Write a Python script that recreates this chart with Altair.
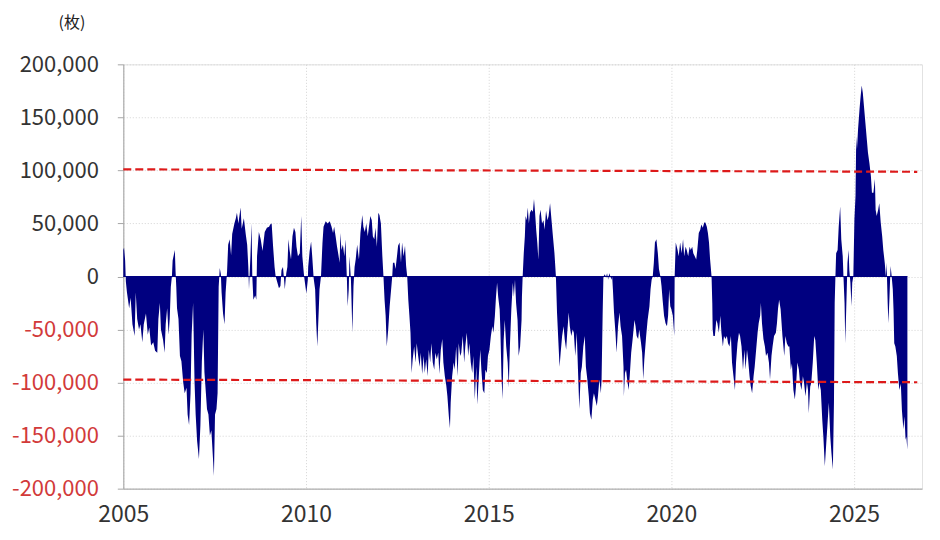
import altair as alt
import pandas as pd

# Net position (contracts, thousands), keyed by decimal year
years = [
    2005.00, 2005.02, 2005.05, 2005.07, 2005.10, 2005.16, 2005.20, 2005.25, 2005.31, 2005.34,
    2005.38, 2005.43, 2005.47, 2005.52, 2005.56, 2005.62, 2005.67, 2005.71, 2005.76, 2005.82,
    2005.87, 2005.93, 2005.96, 2006.00, 2006.03, 2006.09, 2006.13, 2006.16, 2006.20, 2006.24,
    2006.27, 2006.30, 2006.33, 2006.35, 2006.38, 2006.41, 2006.43, 2006.45, 2006.47, 2006.51,
    2006.55, 2006.59, 2006.64, 2006.68, 2006.73, 2006.76, 2006.80, 2006.84, 2006.87, 2006.91,
    2006.95, 2006.98, 2007.02, 2007.07, 2007.11, 2007.15, 2007.19, 2007.22, 2007.26, 2007.29,
    2007.33, 2007.37, 2007.41, 2007.46, 2007.48, 2007.51, 2007.55, 2007.58, 2007.61, 2007.64,
    2007.67, 2007.69, 2007.73, 2007.77, 2007.80, 2007.84, 2007.87, 2007.91, 2007.95, 2007.98,
    2008.04, 2008.08, 2008.11, 2008.15, 2008.21, 2008.24, 2008.30, 2008.35, 2008.39, 2008.42,
    2008.44, 2008.48, 2008.51, 2008.53, 2008.56, 2008.61, 2008.64, 2008.66, 2008.71, 2008.76,
    2008.81, 2008.87, 2008.93, 2008.99, 2009.02, 2009.06, 2009.10, 2009.14, 2009.17, 2009.21,
    2009.26, 2009.30, 2009.33, 2009.37, 2009.40, 2009.42, 2009.46, 2009.49, 2009.52, 2009.55,
    2009.59, 2009.63, 2009.67, 2009.71, 2009.74, 2009.78, 2009.83, 2009.87, 2009.90, 2009.94,
    2009.96, 2010.01, 2010.05, 2010.06, 2010.10, 2010.14, 2010.17, 2010.21, 2010.25, 2010.28,
    2010.31, 2010.35, 2010.37, 2010.41, 2010.45, 2010.48, 2010.54, 2010.59, 2010.65, 2010.70,
    2010.74, 2010.77, 2010.81, 2010.85, 2010.88, 2010.92, 2010.94, 2010.97, 2011.01, 2011.05,
    2011.08, 2011.12, 2011.14, 2011.17, 2011.19, 2011.23, 2011.27, 2011.30, 2011.33, 2011.36,
    2011.40, 2011.45, 2011.49, 2011.54, 2011.57, 2011.61, 2011.65, 2011.69, 2011.72, 2011.76,
    2011.80, 2011.83, 2011.87, 2011.90, 2011.94, 2011.98, 2012.01, 2012.05, 2012.09, 2012.12,
    2012.15, 2012.18, 2012.21, 2012.25, 2012.29, 2012.33, 2012.36, 2012.38, 2012.42, 2012.45,
    2012.49, 2012.52, 2012.56, 2012.60, 2012.63, 2012.67, 2012.71, 2012.74, 2012.77, 2012.80,
    2012.83, 2012.86, 2012.89, 2012.92, 2012.96, 2013.00, 2013.03, 2013.07, 2013.11, 2013.14,
    2013.18, 2013.22, 2013.25, 2013.29, 2013.33, 2013.36, 2013.40, 2013.43, 2013.47, 2013.51,
    2013.54, 2013.58, 2013.62, 2013.65, 2013.69, 2013.73, 2013.76, 2013.80, 2013.84, 2013.87,
    2013.91, 2013.94, 2013.96, 2014.00, 2014.04, 2014.07, 2014.11, 2014.15, 2014.18, 2014.22,
    2014.25, 2014.29, 2014.33, 2014.36, 2014.40, 2014.44, 2014.47, 2014.51, 2014.55, 2014.58,
    2014.62, 2014.66, 2014.69, 2014.73, 2014.77, 2014.80, 2014.84, 2014.88, 2014.91, 2014.95,
    2014.98, 2015.02, 2015.06, 2015.10, 2015.13, 2015.17, 2015.20, 2015.23, 2015.26, 2015.30,
    2015.32, 2015.35, 2015.38, 2015.41, 2015.44, 2015.48, 2015.52, 2015.55, 2015.58, 2015.62,
    2015.66, 2015.69, 2015.72, 2015.75, 2015.79, 2015.82, 2015.86, 2015.90, 2015.91, 2015.93,
    2015.96, 2015.99, 2016.01, 2016.04, 2016.07, 2016.10, 2016.13, 2016.17, 2016.21, 2016.24,
    2016.27, 2016.30, 2016.33, 2016.36, 2016.39, 2016.42, 2016.46, 2016.50, 2016.53, 2016.57,
    2016.61, 2016.64, 2016.68, 2016.72, 2016.75, 2016.80, 2016.84, 2016.87, 2016.90, 2016.94,
    2016.97, 2017.01, 2017.05, 2017.08, 2017.12, 2017.15, 2017.19, 2017.22, 2017.26, 2017.30,
    2017.33, 2017.37, 2017.41, 2017.45, 2017.48, 2017.52, 2017.55, 2017.59, 2017.63, 2017.66,
    2017.70, 2017.74, 2017.77, 2017.81, 2017.85, 2017.88, 2017.92, 2017.96, 2017.99, 2018.03,
    2018.07, 2018.09, 2018.12, 2018.14, 2018.18, 2018.21, 2018.24, 2018.27, 2018.30, 2018.33,
    2018.36, 2018.38, 2018.40, 2018.43, 2018.47, 2018.50, 2018.54, 2018.58, 2018.61, 2018.65,
    2018.69, 2018.70, 2018.73, 2018.76, 2018.79, 2018.83, 2018.86, 2018.90, 2018.94, 2018.99,
    2019.02, 2019.05, 2019.09, 2019.12, 2019.17, 2019.20, 2019.23, 2019.26, 2019.31, 2019.35,
    2019.40, 2019.43, 2019.46, 2019.49, 2019.52, 2019.55, 2019.59, 2019.63, 2019.66, 2019.70,
    2019.73, 2019.76, 2019.80, 2019.84, 2019.88, 2019.91, 2019.94, 2019.97, 2020.00, 2020.04,
    2020.08, 2020.09, 2020.12, 2020.17, 2020.20, 2020.24, 2020.28, 2020.32, 2020.35, 2020.39,
    2020.42, 2020.46, 2020.50, 2020.53, 2020.57, 2020.60, 2020.64, 2020.68, 2020.71, 2020.75,
    2020.79, 2020.82, 2020.86, 2020.90, 2020.93, 2020.97, 2021.00, 2021.03, 2021.06, 2021.10,
    2021.12, 2021.13, 2021.15, 2021.19, 2021.23, 2021.26, 2021.30, 2021.34, 2021.37, 2021.41,
    2021.44, 2021.48, 2021.52, 2021.55, 2021.59, 2021.63, 2021.66, 2021.70, 2021.74, 2021.77,
    2021.81, 2021.85, 2021.88, 2021.92, 2021.96, 2022.00, 2022.03, 2022.07, 2022.10, 2022.14,
    2022.17, 2022.21, 2022.25, 2022.28, 2022.32, 2022.36, 2022.39, 2022.43, 2022.45, 2022.48,
    2022.52, 2022.56, 2022.59, 2022.63, 2022.67, 2022.70, 2022.74, 2022.77, 2022.81, 2022.86,
    2022.89, 2022.92, 2022.95, 2022.99, 2023.04, 2023.09, 2023.12, 2023.16, 2023.20, 2023.23,
    2023.27, 2023.30, 2023.34, 2023.38, 2023.41, 2023.45, 2023.49, 2023.52, 2023.56, 2023.60,
    2023.63, 2023.67, 2023.71, 2023.74, 2023.76, 2023.80, 2023.83, 2023.87, 2023.91, 2023.94,
    2023.98, 2024.02, 2024.05, 2024.09, 2024.13, 2024.16, 2024.20, 2024.24, 2024.27, 2024.31,
    2024.35, 2024.38, 2024.42, 2024.45, 2024.47, 2024.49, 2024.51, 2024.55, 2024.58, 2024.62,
    2024.65, 2024.69, 2024.71, 2024.74, 2024.76, 2024.79, 2024.82, 2024.85, 2024.87, 2024.90,
    2024.93, 2024.95, 2024.98, 2025.01, 2025.04, 2025.06, 2025.08, 2025.11, 2025.15, 2025.18,
    2025.21, 2025.24, 2025.27, 2025.31, 2025.35, 2025.38, 2025.42, 2025.46, 2025.49, 2025.53,
    2025.57, 2025.59, 2025.62, 2025.66, 2025.69, 2025.73, 2025.77, 2025.80, 2025.84, 2025.87,
    2025.89, 2025.92, 2025.94, 2025.97, 2026.00, 2026.03, 2026.06, 2026.08, 2026.10, 2026.13,
    2026.17, 2026.20, 2026.24, 2026.28, 2026.31, 2026.35, 2026.38, 2026.41, 2026.43, 2026.46,
]

net_k = [
    25, 27, 15, -5, -15, -30, -20, -45, -56, -15,
    -40, -50, -45, -62, -45, -35, -55, -48, -65, -62,
    -70, -72, -40, -25, -50, -60, -72, -45, -30, -55,
    -40, -10, 0, 15, 20, 25, 5, -10, -30, -40,
    -75, -80, -100, -110, -105, -130, -140, -110, -55, -25,
    -100, -130, -155, -172, -140, -80, -50, -90, -110, -125,
    -130, -150, -145, -175, -188, -130, -125, -110, -10, 8,
    2, -15, -35, -45, -15, 5, 30, 35, 20, 40,
    50, 55, 60, 50, 65, 45, 55, 40, 30, 10,
    -12, 20, 50, 0, -22, -18, -22, 19, 42, 35,
    24, 42, 46, 47, 49, 50, 28, 9, 0, -5,
    -11, -9, 6, 9, -3, -12, 3, 9, 35, 25,
    16, 38, 46, 42, 28, 19, 22, 57, 19, 3,
    -3, -16, -3, 9, 24, 33, 19, -2, -12, -44,
    -66, -31, -12, 0, 31, 47, 52, 50, 52, 47,
    41, 47, 38, 28, 22, 13, 41, 25, 30, 19,
    35, -3, -28, -12, 19, -3, -53, -9, 9, 16,
    30, 16, 41, 58, 47, 42, 50, 38, 46, 57,
    53, 38, 35, 46, 28, 60, 58, 50, 19, 0,
    -22, -37, -66, -50, -28, -12, 0, 13, 13, 7,
    19, 29, 32, 13, 32, 19, 29, 10, 0, -22,
    -37, -53, -91, -78, -66, -81, -63, -75, -85, -72,
    -92, -75, -91, -78, -94, -69, -81, -63, -81, -88,
    -72, -78, -72, -92, -69, -59, -81, -94, -103, -113,
    -132, -143, -119, -94, -81, -88, -66, -94, -63, -75,
    -72, -56, -81, -66, -53, -75, -63, -81, -91, -75,
    -116, -85, -121, -94, -69, -88, -107, -110, -88, -91,
    -75, -69, -56, -47, -53, -37, -19, -6, -19, -31,
    -50, -94, -116, -60, -41, -66, -81, -105, -66, -31,
    -6, -19, -3, -25, -41, -75, -66, -41, -19, 0,
    22, 38, 57, 53, 65, 50, 60, 63, 61, 73,
    60, 44, 32, 16, 57, 63, 50, 53, 44, 62,
    53, 57, 69, 53, 41, 22, 0, -34, -56, -85,
    -72, -56, -47, -59, -69, -53, -34, -47, -56, -50,
    -53, -75, -53, -94, -125, -91, -85, -66, -56, -85,
    -97, -113, -129, -135, -116, -110, -116, -122, -113, -97,
    -110, -97, -34, 0, 2, -1, 3, -3, 3, 0,
    -3, 0, -12, -34, -53, -72, -47, -34, -47, -56,
    -85, -113, -91, -88, -97, -107, -94, -72, -59, -41,
    -47, -56, -59, -50, -63, -72, -97, -78, -56, -41,
    -28, -12, -3, 0, 13, 32, 35, 22, 7, 0,
    -9, -22, -37, -44, -47, -37, -12, -28, -31, -37,
    -56, 0, 32, 25, 19, 32, 22, 35, 19, 28,
    25, 19, 28, 25, 28, 22, 19, 16, 25, 41,
    44, 49, 46, 51, 51, 47, 41, 32, 16, 0,
    -25, -50, -56, -56, -41, -44, -53, -37, -53, -66,
    -56, -59, -56, -63, -66, -56, -81, -94, -107, -81,
    -63, -53, -56, -66, -88, -69, -88, -69, -78, -94,
    -103, -110, -94, -85, -69, -53, -44, -37, -25, -44,
    -59, -66, -75, -72, -81, -97, -75, -66, -56, -53,
    -44, -30, -22, -31, -56, -75, -56, -63, -66, -66,
    -88, -82, -107, -116, -104, -81, -88, -100, -107, -94,
    -100, -113, -100, -107, -129, -104, -100, -81, -56, -60,
    -81, -107, -100, -107, -135, -151, -179, -157, -141, -119,
    -151, -166, -182, -119, -25, 0, 22, 25, 47, 66,
    35, 19, 0, -25, -63, -25, 13, 25, 6, -6,
    -28, -6, 0, 54, 76, 132, 120, 139, 158, 170,
    180, 173, 161, 145, 129, 117, 107, 95, 79, 79,
    92, 63, 57, 63, 69, 51, 38, 25, 13, 0,
    13, -25, -44, -19, 10, 0, -12, -31, -63, -66,
    -75, -91, -107, -101, -126, -144, -132, -154, -151, -163,
]

# Red dashed reference lines (read at the left and right ends)
ref_years = [2005.0, 2026.73]
upper_ref = [101000, 98700]
lower_ref = [-97200, -99700]

x_ticks = [2005, 2010, 2015, 2020, 2025]
y_ticks = [-200000, -150000, -100000, -50000, 0, 50000, 100000, 150000, 200000]

FONT = "Noto Sans CJK KR"
NAVY = "#000080"

df = pd.DataFrame({"year": years, "net": [v * 1000 for v in net_k]})
zero_df = pd.DataFrame({"year": [years[0], years[-1]], "net": [0, 0]})
ref_df = pd.DataFrame({
    "year": ref_years + ref_years,
    "net": upper_ref + lower_ref,
    "grp": ["upper", "upper", "lower", "lower"],
})

x_scale = alt.Scale(domain=[2005, 2026.86], nice=False, zero=False)
y_scale = alt.Scale(domain=[-200000, 200000], nice=False)

x_axis = alt.Axis(
    values=x_ticks, format="d", labelFontSize=23, labelFont=FONT, labelColor="#333333",
    ticks=False, labelPadding=15, domainColor="#A6A6A6", grid=True,
    gridColor="#D4D4D4", gridDash=[1, 2], title=None, labelFlush=False,
)
y_axis = alt.Axis(
    values=y_ticks,
    labelExpr="(datum.value < 0 ? '-' : '') + format(abs(datum.value), ',d')",
    labelFontSize=22, labelFont=FONT,
    labelColor={"condition": {"test": "datum.value < 0", "value": "#D23A3A"}, "value": "#333333"},
    tickSize=6, tickColor="#A6A6A6", labelPadding=19, domainColor="#A6A6A6",
    grid=True, gridColor="#D4D4D4", gridDash=[1, 2],
    title="(枚)", titleAngle=0, titleX=-52, titleY=-42, titleAlign="center",
    titleBaseline="middle", titleFont=FONT, titleFontSize=16, titleFontWeight="normal",
    titleColor="#222222",
)

area = alt.Chart(df).mark_area(color=NAVY, interpolate="linear").encode(
    x=alt.X("year:Q", scale=x_scale, axis=x_axis),
    y=alt.Y("net:Q", scale=y_scale, axis=y_axis),
    y2=alt.datum(0),
)

zero_line = alt.Chart(zero_df).mark_line(color=NAVY, strokeWidth=1.2).encode(
    x=alt.X("year:Q", scale=x_scale),
    y=alt.Y("net:Q", scale=y_scale),
)

refs = alt.Chart(ref_df).mark_line(color="#DD1A1A", strokeWidth=2.2, strokeDash=[8, 4]).encode(
    x=alt.X("year:Q", scale=x_scale),
    y=alt.Y("net:Q", scale=y_scale),
    detail="grp:N",
)

chart = alt.layer(area, zero_line, refs).properties(
    width=800, height=425,
    autosize=alt.AutoSizeParams(type="none"),
    padding={"left": 115.5, "top": 56, "right": 10, "bottom": 40},
    background="white",
).configure_view(stroke="#E2E2E2", strokeWidth=1)

chart.save("out.html", embed_options={"renderer": "svg", "actions": False})
